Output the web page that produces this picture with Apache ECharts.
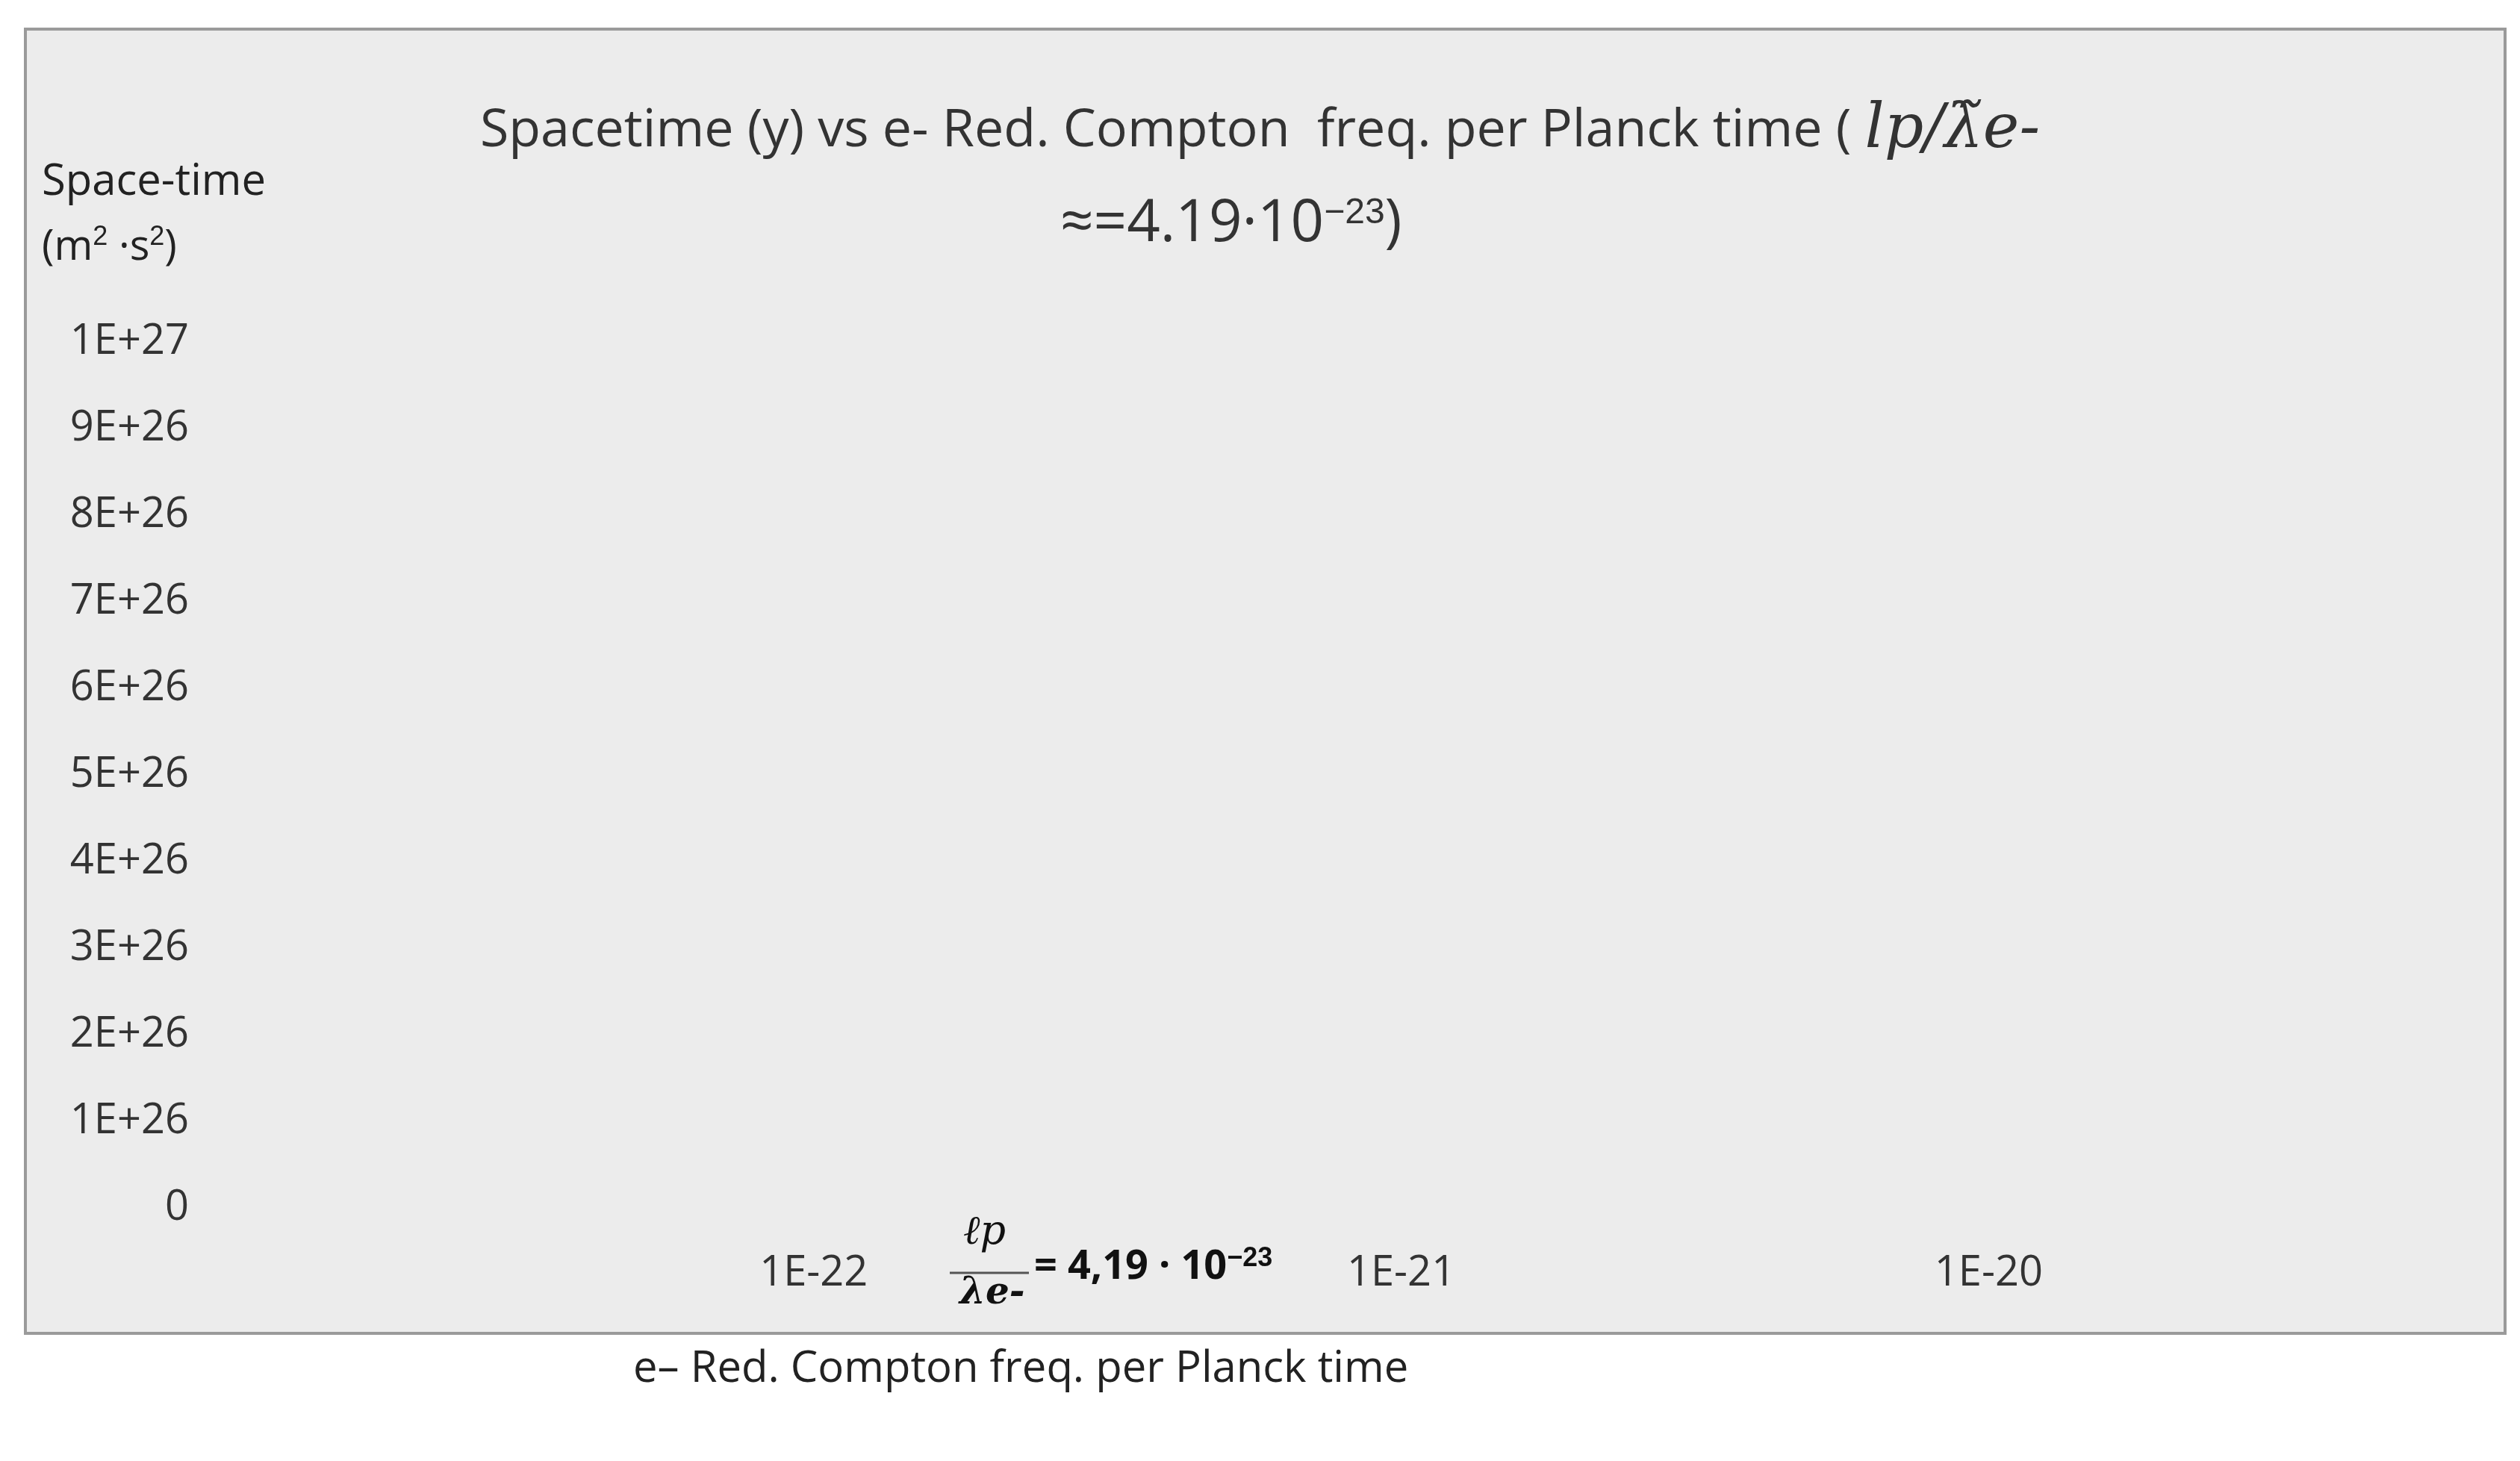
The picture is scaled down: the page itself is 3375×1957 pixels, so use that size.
<!DOCTYPE html><html><head><meta charset="utf-8">
<script src="https://cdn.jsdelivr.net/npm/echarts@6/dist/echarts.min.js"></script>
<style>html,body{margin:0;background:#fff}
#bg{position:absolute;left:32px;top:37px;width:3317px;height:1743px;background:#ececec;border:4px solid #9a9a9a}
#c{position:absolute;left:0;top:0;width:3375px;height:1957px}</style></head><body><div id="bg"></div><div id="c"></div>
<script>
const xTicks = [1e-23, 1e-22, 1e-21, 1e-20];
const yTicks = ['0','1E+26','2E+26','3E+26','4E+26','5E+26','6E+26','7E+26','8E+26','9E+26','1E+27'];
const xVal = 4.19e-23;
const pointsY = [0, 3.4e25, 8.82e26];
const arrowTop = 9.07e26;
const F = 'Open Sans, Noto Sans, sans-serif';
const chart = echarts.init(document.getElementById('c'));
const texts = [
  {type:'text', left:'center', top:135, style:{text:'Spacetime (y) vs e- Red. Compton  freq. per Planck time ( {i|lp/λ̃e-}', fontFamily:F, fontSize:70, fill:'#333', rich:{i:{fontFamily:'DejaVu Serif', fontStyle:'italic', fontSize:82, fill:'#333'}}}},
  {type:'text', left:1420, top:262, style:{text:'≈=4.19·10{s|−23})', fontFamily:F, fontSize:78, fill:'#333', rich:{s:{fontSize:48, fill:'#333', padding:[0,0,30,0]}}}},
  {type:'text', left:56, top:215, style:{text:'Space-time', fontFamily:F, fontSize:58, fill:'#222'}},
  {type:'text', left:56, top:300, style:{text:'(m{s|2} ·s{s|2})', fontFamily:F, fontSize:56, fill:'#222', rich:{s:{fontSize:36, padding:[0,0,28,0], fill:'#222'}}}},
  {type:'text', left:1290, top:1625, style:{text:'ℓp', fontFamily:'DejaVu Serif', fontStyle:'italic', fontSize:54, fill:'#111'}},
  {type:'line', shape:{x1:1272, y1:1705, x2:1378, y2:1705}, style:{stroke:'#555', lineWidth:3}},
  {type:'text', left:1285, top:1708, style:{text:'λe-', fontFamily:'DejaVu Serif', fontStyle:'italic', fontWeight:'bold', fontSize:50, fill:'#111'}},
  {type:'text', left:1385, top:1668, style:{text:'= 4,19 · 10{s|−23}', fontFamily:F, fontWeight:'bold', fontSize:54, fill:'#111', rich:{s:{fontSize:36, fontWeight:'bold', padding:[0,0,24,0], fill:'#111'}}}},
  {type:'text', left:848, top:1805, style:{text:'e– Red. Compton freq. per Planck time', fontFamily:F, fontSize:58, fill:'#222'}}
];
chart.setOption({
  backgroundColor: 'transparent',
  graphic: texts,
  grid: {left:303, right:200, top:458, bottom:339},
  xAxis: {type:'log', logBase:10, min:1e-23, max:4.47e-20,
    axisLine:{show:false}, axisTick:{show:false},
    splitLine:{show:true, lineStyle:{color:'#a8a8a8', width:3}},
    axisLabel:{fontFamily:F, fontSize:56, color:'#333', margin:60, showMinLabel:true, showMaxLabel:false,
      formatter: v => { const e = Math.round(Math.log10(v)); return xTicks.some(t=>Math.abs(Math.log10(t)-e)<1e-6) ? '1E'+e : ''; }}},
  yAxis: {type:'value', min:0, max:1e27, interval:1e26,
    axisLine:{show:true, lineStyle:{color:'#999', width:5}}, axisTick:{show:false},
    splitLine:{lineStyle:{color:'#a8a8a8', width:3}},
    axisLabel:{fontFamily:F, fontSize:56, color:'#333', margin:50,
      formatter:(v)=> yTicks[Math.round(v/1e26)]}},
  series: [
    {type:'line', data:[[xVal,0],[xVal,arrowTop]], symbol:'none', lineStyle:{color:'#111', width:7}, z:2},
    {type:'scatter', data: pointsY.map(y=>[xVal,y]), symbolSize:34, itemStyle:{color:'#4d6a86'}, z:3},
    {type:'scatter', data:[[xVal,arrowTop]], symbol:'triangle', symbolSize:[28,30], itemStyle:{color:'#111'}, z:4}
  ]
});
const p0 = chart.convertToPixel({xAxisIndex:0, yAxisIndex:0}, [xVal, 0]);
if (p0 && isFinite(p0[0])) {
  chart.setOption({graphic: texts.concat([{type:'line', shape:{x1:p0[0], y1:p0[1]+50, x2:p0[0], y2:1950}, style:{stroke:'#8a8a8a', lineWidth:4}}])});
}
</script></body></html>
